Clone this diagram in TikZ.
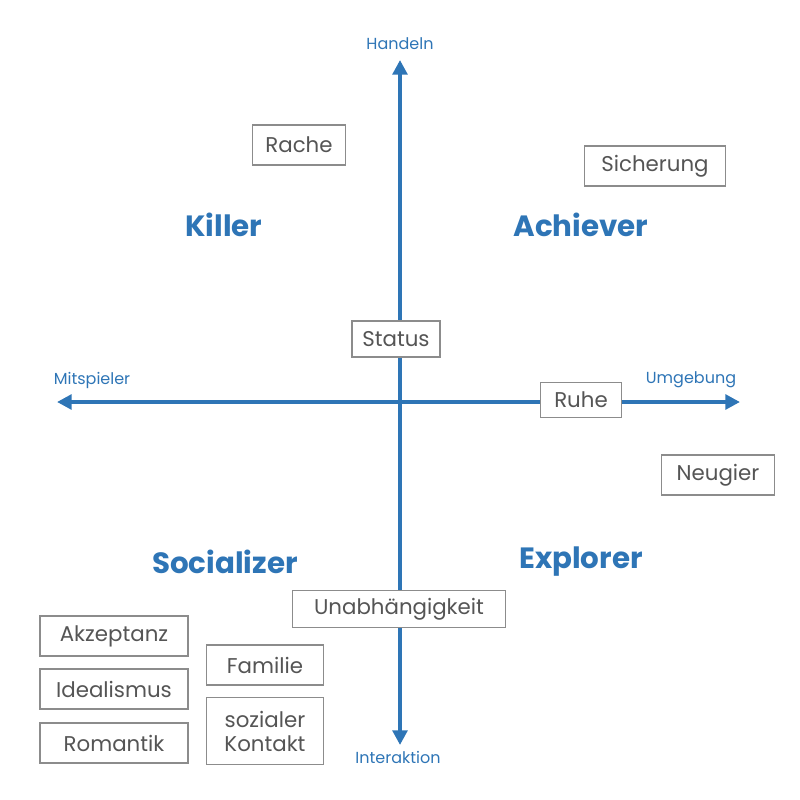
\documentclass[tikz,border=0pt]{standalone}
\usepackage{fontspec}
\setmainfont{Poppins}
\usetikzlibrary{arrows.meta}
\definecolor{ablue}{HTML}{2E75B6}
\definecolor{tgray}{HTML}{555555}
\definecolor{bgray}{HTML}{8C8C8C}
\begin{document}
\begin{tikzpicture}[x=0.75pt,y=-0.75pt,
  axis/.style={draw=ablue,line width=3.6pt,-{Triangle[length=11pt,width=11pt]}},
  alab/.style={text=ablue,font=\fontsize{12}{14}\selectfont},
  quad/.style={text=ablue,font=\fontsize{22}{26}\selectfont\bfseries},
  tag/.style={draw=bgray,line width=0.8pt,fill=white,text=tgray,font=\fontsize{16}{19}\selectfont,inner sep=0pt,align=center}]
\useasboundingbox (0,0) rectangle (800,800);
\coordinate (c) at (400,402);
\coordinate (top) at (400,60);
\coordinate (bot) at (400,745);
\coordinate (lft) at (57,402);
\coordinate (rgt) at (740,402);
\draw[axis] (c) -- (top);
\draw[axis] (c) -- (bot);
\draw[axis] (c) -- (lft);
\draw[axis] (c) -- (rgt);
\node[alab] (h) at (400,44) {Handeln};
\node[alab] (i) at (398,757) {Interaktion};
\node[alab] (m) at (92,380) {Mitspieler};
\node[alab] (u) at (691,380) {Umgebung};
\node[quad] (k) at (224,225) {Killer};
\node[quad] (a) at (581,225) {Achiever};
\node[quad] (s) at (225,562) {Socializer};
\node[quad] (e) at (581,562) {Explorer};
\node[tag,minimum width=70pt,minimum height=30pt] (r) at (299,145) {Rache};
\node[tag,minimum width=106pt,minimum height=30pt] (si) at (655,166) {Sicherung};
\node[tag,minimum width=66pt,minimum height=27pt] (st) at (396,339) {Status};
\node[tag,minimum width=61pt,minimum height=26pt] (ru) at (581,400) {Ruhe};
\node[tag,minimum width=85pt,minimum height=30pt] (n) at (718,475) {Neugier};
\node[tag,minimum width=160pt,minimum height=28pt] (un) at (399,609) {Unabhängigkeit};
\node[tag,minimum width=111pt,minimum height=30pt] (ak) at (114,636) {Akzeptanz};
\node[tag,minimum width=111pt,minimum height=30pt] (id) at (114,689) {Idealismus};
\node[tag,minimum width=111pt,minimum height=30pt] (ro) at (114,743) {Romantik};
\node[tag,minimum width=88pt,minimum height=30pt] (f) at (265,665) {Familie};
\node[tag,minimum width=88pt,minimum height=50pt,font=\fontsize{16}{18}\selectfont] (sk) at (265,731) {sozialer\\Kontakt};
\end{tikzpicture}
\end{document}
